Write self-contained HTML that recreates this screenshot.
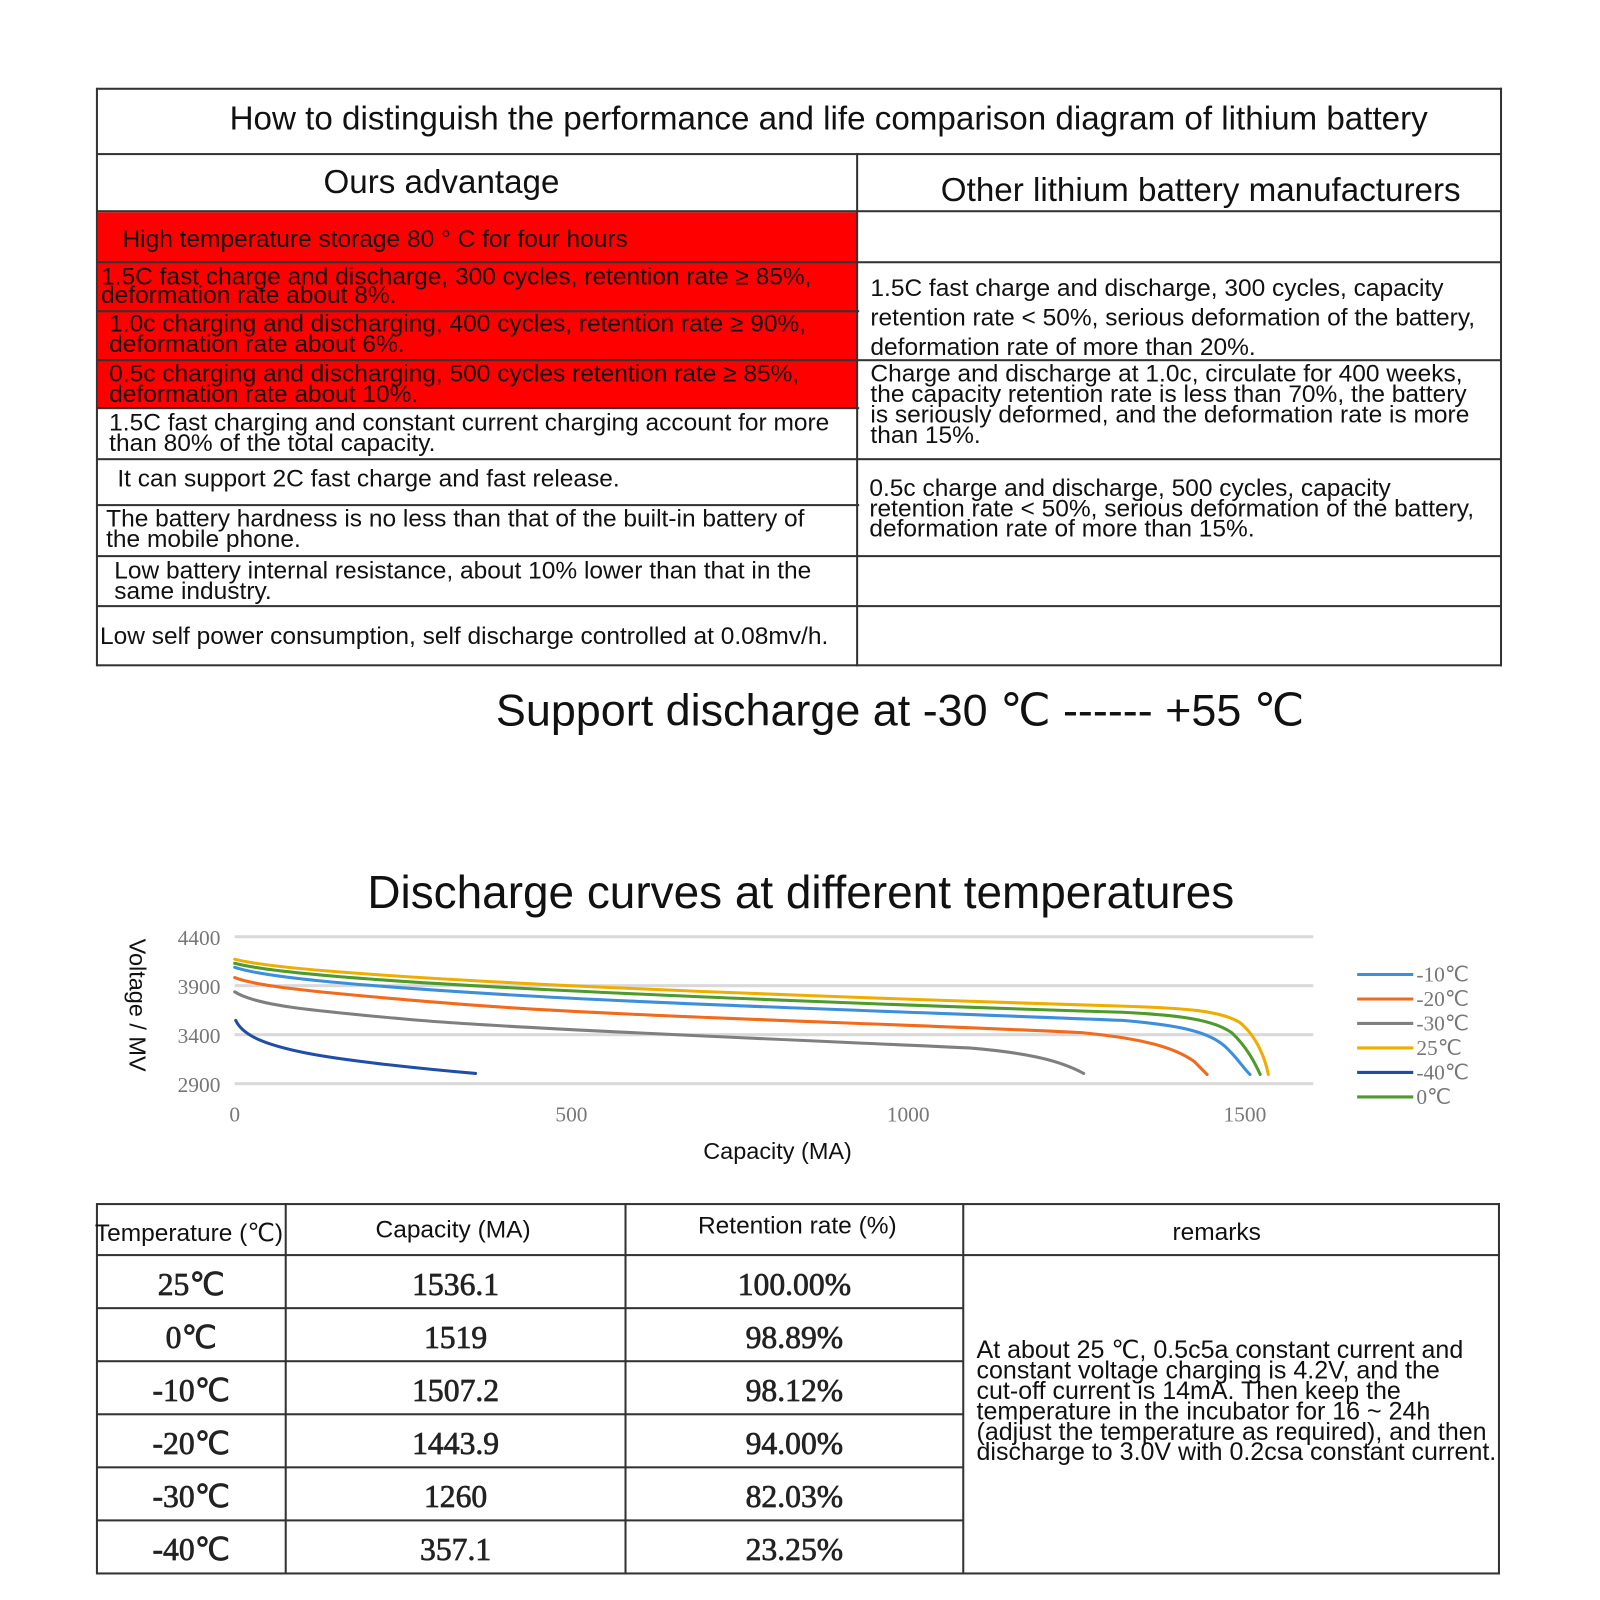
<!DOCTYPE html>
<html><head><meta charset="utf-8"><style>
html,body{margin:0;padding:0;background:#fff;}
body{width:1600px;height:1600px;overflow:hidden;position:relative;}
#w{position:absolute;left:0;top:0;width:1568px;height:1568px;transform:scale(1.0204);transform-origin:0 0;font-family:"Liberation Sans",sans-serif;color:#111;}
.t{position:absolute;white-space:pre;}
.h{position:absolute;height:2px;background:#333;}
.v{position:absolute;width:2px;background:#333;}
.r{position:absolute;background:#fe0000;}
.s{font-size:24px;line-height:20px;}
.d{font-family:"Liberation Serif",serif;font-size:31px;-webkit-text-stroke:0.7px #222;line-height:34px;text-align:center;position:absolute;color:#222;}
</style></head><body><div id="w">
<div class="r" style="left:96px;top:208px;width:744px;height:192px"></div>
<div class="h" style="left:95px;top:86px;width:1377px"></div>
<div class="h" style="left:95px;top:150px;width:1377px"></div>
<div class="h" style="left:95px;top:206px;width:1375px"></div>
<div class="h" style="left:95px;top:256px;width:1375px"></div>
<div class="h" style="left:95px;top:304px;width:747px"></div>
<div class="h" style="left:95px;top:352px;width:1375px"></div>
<div class="h" style="left:95px;top:399px;width:747px"></div>
<div class="h" style="left:95px;top:449px;width:1375px"></div>
<div class="h" style="left:95px;top:494px;width:747px"></div>
<div class="h" style="left:95px;top:544px;width:1375px"></div>
<div class="h" style="left:95px;top:593px;width:1375px"></div>
<div class="h" style="left:95px;top:651px;width:1377px"></div>
<div class="v" style="left:94px;top:86px;height:567px"></div>
<div class="v" style="left:1470px;top:86px;height:567px"></div>
<div class="v" style="left:839px;top:150px;height:503px"></div>

<div class="t" style="left:225px;top:98px;font-size:32.5px;line-height:36px">How to distinguish the performance and life comparison diagram of lithium battery</div>
<div class="t" style="left:317px;top:160px;font-size:32.5px;line-height:36px">Ours advantage</div>
<div class="t" style="left:922px;top:168px;font-size:32.5px;line-height:36px">Other lithium battery manufacturers</div>

<div class="t s" style="left:120px;top:225px">High temperature storage 80 ° C for four hours</div>
<div class="t s" style="left:99px;top:263px;line-height:18px">1.5C fast charge and discharge, 300 cycles, retention rate ≥ 85%,
deformation rate about 8%.</div>
<div class="t s" style="left:107px;top:308px">1.0c charging and discharging, 400 cycles, retention rate ≥ 90%,
deformation rate about 6%.</div>
<div class="t s" style="left:107px;top:357px">0.5c charging and discharging, 500 cycles retention rate ≥ 85%,
deformation rate about 10%.</div>
<div class="t s" style="left:107px;top:405px">1.5C fast charging and constant current charging account for more
than 80% of the total capacity.</div>
<div class="t s" style="left:115px;top:460px">It can support 2C fast charge and fast release.</div>
<div class="t s" style="left:104px;top:499px">The battery hardness is no less than that of the built-in battery of
the mobile phone.</div>
<div class="t s" style="left:112px;top:550px">Low battery internal resistance, about 10% lower than that in the
same industry.</div>
<div class="t s" style="left:98px;top:614px">Low self power consumption, self discharge controlled at 0.08mv/h.</div>

<div class="t s" style="left:853px;top:268px;line-height:29px">1.5C fast charge and discharge, 300 cycles, capacity
retention rate &lt; 50%, serious deformation of the battery, 
deformation rate of more than 20%.</div>
<div class="t s" style="left:853px;top:357px">Charge and discharge at 1.0c, circulate for 400 weeks,
the capacity retention rate is less than 70%, the battery
is seriously deformed, and the deformation rate is more
than 15%.</div>
<div class="t s" style="left:852px;top:469px">0.5c charge and discharge, 500 cycles, capacity
retention rate &lt; 50%, serious deformation of the battery, 
deformation rate of more than 15%.</div>

<div class="t" style="left:486px;top:670px;font-size:44px;line-height:54px">Support discharge at -30 ℃ ------ +55 ℃</div>
<div class="t" style="left:360px;top:848px;font-size:45px;line-height:54px">Discharge curves at different temperatures</div>

<svg style="position:absolute;left:0;top:0" width="1568" height="1568">
<g stroke="#d9d9d9" stroke-width="3">
<line x1="230" y1="918" x2="1287" y2="918"/><line x1="230" y1="966" x2="1287" y2="966"/>
<line x1="230" y1="1014" x2="1287" y2="1014"/><line x1="230" y1="1062" x2="1287" y2="1062"/>
</g>
<g font-family="Liberation Serif,serif" font-size="21" fill="#777" text-anchor="end">
<text x="216" y="926">4400</text><text x="216" y="974">3900</text><text x="216" y="1022">3400</text><text x="216" y="1070">2900</text>
</g>
<g font-family="Liberation Serif,serif" font-size="21" fill="#777" text-anchor="middle">
<text x="230" y="1099">0</text><text x="560" y="1099">500</text><text x="890" y="1099">1000</text><text x="1220" y="1099">1500</text>
</g>
<text transform="translate(127,985) rotate(90)" text-anchor="middle" font-family="Liberation Sans,sans-serif" font-size="23" fill="#111">Voltage / MV</text>
<text x="762" y="1136" text-anchor="middle" font-family="Liberation Sans,sans-serif" font-size="23" fill="#111">Capacity (MA)</text>
<g fill="none" stroke-width="3" stroke-linecap="round">
<path stroke="#7f7f7f" d="M230,972 C250,985 300,990 400,999 S800,1020 950,1027 C1010,1032 1040,1040 1062,1052"/>
<path stroke="#f26b1d" d="M230,958 C250,966 300,972 450,984 S850,1002 1060,1012 C1120,1018 1150,1026 1170,1040 L1183,1053"/>
<path stroke="#3d8fdb" d="M230,948 C260,958 350,966 500,975 S900,992 1100,1000 C1160,1005 1185,1012 1200,1025 C1212,1036 1218,1046 1225,1053"/>
<path stroke="#4e9a2b" d="M230,944 C260,952 350,960 500,968 S900,986 1100,992 C1160,995 1190,1000 1207,1012 C1222,1026 1230,1042 1235,1053"/>
<path stroke="#eeae00" d="M230,940 C260,948 350,955 500,963 S900,980 1100,986 C1160,988 1195,990 1215,1002 C1232,1016 1240,1038 1243,1053"/>
<path stroke="#1f4ea8" d="M231,1000 C238,1015 260,1024 300,1032 S420,1048 466,1052"/>
</g>
<g stroke-width="3">
<line x1="1330" y1="955" x2="1385" y2="955" stroke="#3d8fdb"/>
<line x1="1330" y1="979" x2="1385" y2="979" stroke="#f26b1d"/>
<line x1="1330" y1="1003" x2="1385" y2="1003" stroke="#7f7f7f"/>
<line x1="1330" y1="1027" x2="1385" y2="1027" stroke="#eeae00"/>
<line x1="1330" y1="1051" x2="1385" y2="1051" stroke="#1f4ea8"/>
<line x1="1330" y1="1075" x2="1385" y2="1075" stroke="#4e9a2b"/>
</g>
<g font-family="Liberation Serif,serif" font-size="21" fill="#777">
<text x="1388" y="962">-10℃</text><text x="1388" y="986">-20℃</text><text x="1388" y="1010">-30℃</text>
<text x="1388" y="1034">25℃</text><text x="1388" y="1058">-40℃</text><text x="1388" y="1082">0℃</text>
</g>
</svg>

<div class="h" style="left:95px;top:1179px;width:1375px"></div>
<div class="h" style="left:95px;top:1229px;width:1375px"></div>
<div class="h" style="left:95px;top:1281px;width:849px"></div>
<div class="h" style="left:95px;top:1333px;width:849px"></div>
<div class="h" style="left:95px;top:1385px;width:849px"></div>
<div class="h" style="left:95px;top:1437px;width:849px"></div>
<div class="h" style="left:95px;top:1489px;width:849px"></div>
<div class="h" style="left:95px;top:1541px;width:1375px"></div>
<div class="v" style="left:94px;top:1179px;height:364px"></div>
<div class="v" style="left:279px;top:1179px;height:364px"></div>
<div class="v" style="left:612px;top:1179px;height:364px"></div>
<div class="v" style="left:943px;top:1179px;height:364px"></div>
<div class="v" style="left:1468px;top:1179px;height:364px"></div>

<div class="t" style="left:93px;top:1196px;font-size:24px;line-height:26px">Temperature (℃)</div>
<div class="t" style="left:368px;top:1193px;font-size:24px;line-height:26px">Capacity (MA)</div>
<div class="t" style="left:684px;top:1189px;font-size:24px;line-height:26px">Retention rate (%)</div>
<div class="t" style="left:1149px;top:1195px;font-size:24px;line-height:26px">remarks</div>

<div class="d" style="left:96px;width:183px;top:1242px">25℃</div>
<div class="d" style="left:96px;width:183px;top:1294px">0℃</div>
<div class="d" style="left:96px;width:183px;top:1346px">-10℃</div>
<div class="d" style="left:96px;width:183px;top:1398px">-20℃</div>
<div class="d" style="left:96px;width:183px;top:1450px">-30℃</div>
<div class="d" style="left:96px;width:183px;top:1502px">-40℃</div>
<div class="d" style="left:281px;width:331px;top:1242px">1536.1</div>
<div class="d" style="left:281px;width:331px;top:1294px">1519</div>
<div class="d" style="left:281px;width:331px;top:1346px">1507.2</div>
<div class="d" style="left:281px;width:331px;top:1398px">1443.9</div>
<div class="d" style="left:281px;width:331px;top:1450px">1260</div>
<div class="d" style="left:281px;width:331px;top:1502px">357.1</div>
<div class="d" style="left:614px;width:329px;top:1242px">100.00%</div>
<div class="d" style="left:614px;width:329px;top:1294px">98.89%</div>
<div class="d" style="left:614px;width:329px;top:1346px">98.12%</div>
<div class="d" style="left:614px;width:329px;top:1398px">94.00%</div>
<div class="d" style="left:614px;width:329px;top:1450px">82.03%</div>
<div class="d" style="left:614px;width:329px;top:1502px">23.25%</div>

<div class="t" style="left:957px;top:1314px;font-size:24.5px;line-height:20px">At about 25 ℃, 0.5c5a constant current and
constant voltage charging is 4.2V, and the
cut-off current is 14mA. Then keep the
temperature in the incubator for 16 ~ 24h
(adjust the temperature as required), and then
discharge to 3.0V with 0.2csa constant current.</div>
</div></body></html>
